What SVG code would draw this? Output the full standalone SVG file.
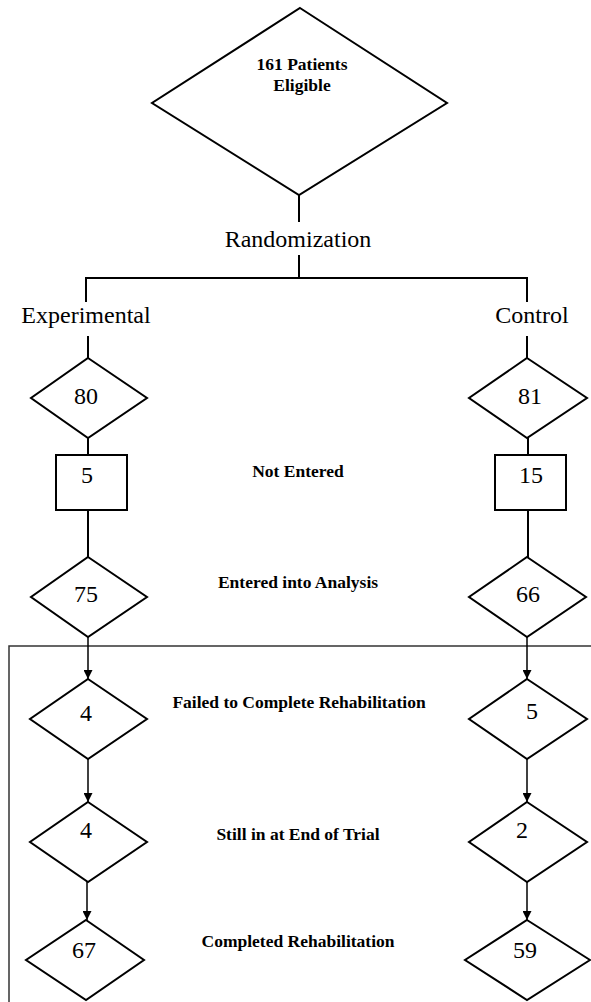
<svg xmlns="http://www.w3.org/2000/svg" width="591" height="1002" viewBox="0 0 591 1002">
<style>
.shape{fill:#fff;stroke:#000;stroke-width:2;stroke-linejoin:miter}
.num{font-family:"Liberation Serif","Times New Roman",serif;font-size:24px;text-anchor:middle;fill:#000}
.lbl{font-family:"Liberation Serif","Times New Roman",serif;font-size:17.5px;font-weight:bold;text-anchor:middle;fill:#000}
.big{font-family:"Liberation Serif","Times New Roman",serif;font-size:24px;fill:#000}
.line{fill:none;stroke:#000;stroke-width:2}
.arrow{fill:none;stroke:#000;stroke-width:1.5;marker-end:url(#ah)}
</style>
<defs>
<marker id="ah" viewBox="0 0 10 10" refX="10" refY="5" markerWidth="9" markerHeight="9" markerUnits="userSpaceOnUse" orient="auto">
<path d="M0,0 L10,5 L0,10 Z" fill="#000"/>
</marker>
</defs>
<rect width="591" height="1002" fill="#fff"/>
<g id="border">
<path d="M9,1002 V646 H591" fill="none" stroke="#333" stroke-width="1.5"/>
</g>
<g id="connectors">
<path class="line" d="M299,195 V222"/>
<path class="line" d="M299,255 V278"/>
<path class="line" d="M86,302 V278 H527 V302"/>
<path class="line" d="M88,336 V358"/>
<path class="line" d="M527,336 V358"/>
<path class="line" d="M88,438 V455"/>
<path class="line" d="M88,510 V557"/>
<path class="line" d="M528,438 V455"/>
<path class="line" d="M528,510 V557"/>
<path class="arrow" d="M88,637 V679"/>
<path class="arrow" d="M88,759 V802"/>
<path class="arrow" d="M87,882 V920"/>
<path class="arrow" d="M527,637 V679"/>
<path class="arrow" d="M527,759 V802"/>
<path class="arrow" d="M527,882 V920"/>
</g>
<g id="eligible">
<polygon class="shape" points="300,8 447,103 299,195 152,103"/>
<text class="lbl" x="302" y="70">161 Patients</text>
<text class="lbl" x="302" y="91">Eligible</text>
</g>
<g id="randomization"><text class="big" x="298" y="247" text-anchor="middle">Randomization</text></g>
<g id="experimental"><text class="big" x="86" y="323" text-anchor="middle">Experimental</text></g>
<g id="control"><text class="big" x="532" y="323" text-anchor="middle">Control</text></g>
<g id="e80"><polygon class="shape" points="88,358 147,398 88,438 31,398"/><text class="num" x="86" y="404">80</text></g>
<g id="c81"><polygon class="shape" points="527,358 587,398 527,438 469,398"/><text class="num" x="530" y="404">81</text></g>
<g id="e5"><rect class="shape" x="56" y="455" width="71" height="55"/><text class="num" x="87" y="483">5</text></g>
<g id="c15"><rect class="shape" x="495" y="455" width="71" height="55"/><text class="num" x="531" y="483">15</text></g>
<g id="notentered"><text class="lbl" x="298" y="477">Not Entered</text></g>
<g id="e75"><polygon class="shape" points="88,557 147,597 88,637 31,597"/><text class="num" x="86" y="602">75</text></g>
<g id="c66"><polygon class="shape" points="527,557 586,597 527,637 469,597"/><text class="num" x="528" y="602">66</text></g>
<g id="entered"><text class="lbl" x="298" y="588">Entered into Analysis</text></g>
<g id="e4a"><polygon class="shape" points="88,679 147,719 88,759 30,719"/><text class="num" x="86" y="721">4</text></g>
<g id="c5"><polygon class="shape" points="527,679 587,719 527,759 469,719"/><text class="num" x="532" y="719">5</text></g>
<g id="failed"><text class="lbl" x="299" y="708">Failed to Complete Rehabilitation</text></g>
<g id="e4b"><polygon class="shape" points="88,802 147,842 88,882 30,842"/><text class="num" x="86" y="838">4</text></g>
<g id="c2"><polygon class="shape" points="527,802 587,842 527,882 469,842"/><text class="num" x="522" y="838">2</text></g>
<g id="still"><text class="lbl" x="298" y="840">Still in at End of Trial</text></g>
<g id="e67"><polygon class="shape" points="86,920 144,960 86,1000 26,960"/><text class="num" x="84" y="958">67</text></g>
<g id="c59"><polygon class="shape" points="527,920 590,960 527,1000 465,960"/><text class="num" x="525" y="958">59</text></g>
<g id="completed"><text class="lbl" x="298" y="947">Completed Rehabilitation</text></g>
</svg>
